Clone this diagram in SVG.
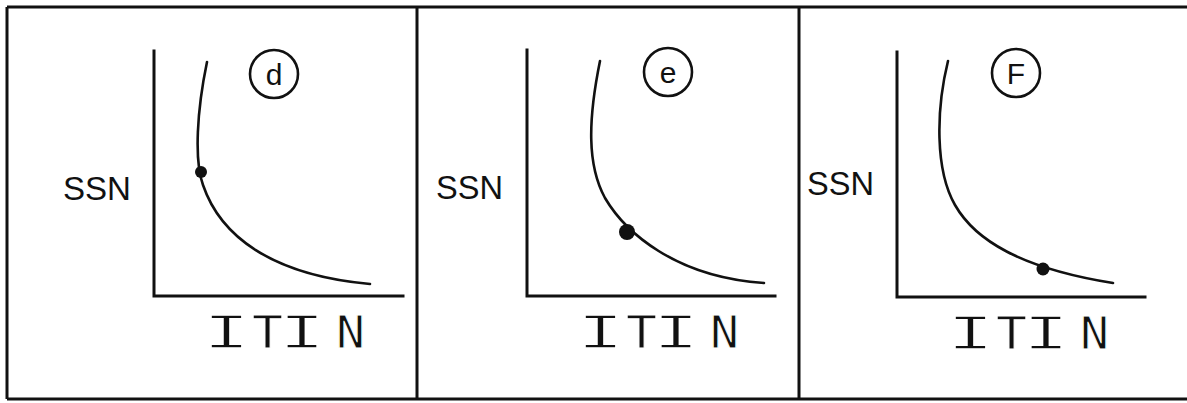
<svg xmlns="http://www.w3.org/2000/svg" width="1187" height="403" viewBox="0 0 1187 403">
<style>
.frame{stroke:#111;stroke-width:3;fill:none}
.axis{stroke:#111;stroke-width:3;fill:none;stroke-linecap:square}
.curve{stroke:#111;stroke-width:2.6;fill:none;stroke-linecap:round}
.badge{stroke:#111;stroke-width:2.6;fill:none}
.dot{fill:#111}
.ylab{font-family:"Liberation Sans",Arial,sans-serif;font-size:34px;fill:#111}
.xlab{font-family:"DejaVu Sans Mono",monospace;font-size:45px;fill:#111;stroke:#fff;stroke-width:0.8}
.xlab .wide{stroke-width:1.3}
.blab{font-family:"Liberation Sans",Arial,sans-serif;font-size:30px;fill:#111;text-anchor:middle}
</style>
<rect width="1187" height="403" fill="#fff"/>
<g id="frame">
<path class="frame" d="M7,7 H1187 M7,399 H1187 M7,7 V399 M417,7 V399 M799,7 V399"/>
</g>
<g id="panel-d">
<path class="axis" d="M154,51 V296 H403"/>
<path class="curve" d="M207,62 C197,110 194,160 203,185 C220,235 270,275 370,284"/>
<circle class="dot" cx="201" cy="172" r="6"/>
<circle class="badge" cx="274" cy="74" r="24"/>
<text class="blab" x="274" y="85">d</text>
<text class="ylab" x="63" y="200" textLength="68" lengthAdjust="spacingAndGlyphs">SSN</text>
<text class="xlab" y="348"><tspan class="wide" x="203" textLength="47" lengthAdjust="spacingAndGlyphs">I</tspan><tspan x="252" textLength="31" lengthAdjust="spacingAndGlyphs">T</tspan><tspan class="wide" x="279" textLength="46" lengthAdjust="spacingAndGlyphs">I</tspan><tspan x="336" textLength="29" lengthAdjust="spacingAndGlyphs">N</tspan></text>
</g>
<g id="panel-e">
<path class="axis" d="M527,50 V296 H775"/>
<path class="curve" d="M600,61 C588,120 587,165 605,198 C625,232 675,277 764,283"/>
<circle class="dot" cx="627" cy="232" r="8"/>
<circle class="badge" cx="668" cy="72" r="24"/>
<text class="blab" x="668" y="83">e</text>
<text class="ylab" x="436" y="199" textLength="67" lengthAdjust="spacingAndGlyphs">SSN</text>
<text class="xlab" y="348"><tspan class="wide" x="577" textLength="47" lengthAdjust="spacingAndGlyphs">I</tspan><tspan x="626" textLength="31" lengthAdjust="spacingAndGlyphs">T</tspan><tspan class="wide" x="653" textLength="46" lengthAdjust="spacingAndGlyphs">I</tspan><tspan x="710" textLength="29" lengthAdjust="spacingAndGlyphs">N</tspan></text>
</g>
<g id="panel-f">
<path class="axis" d="M897,52 V297 H1145"/>
<path class="curve" d="M948,61 C936,110 935,170 955,205 C975,240 1020,268 1113,283"/>
<circle class="dot" cx="1043" cy="269" r="6.5"/>
<circle class="badge" cx="1016" cy="73" r="24"/>
<text class="blab" x="1016" y="84">F</text>
<text class="ylab" x="807" y="195" textLength="67" lengthAdjust="spacingAndGlyphs">SSN</text>
<text class="xlab" y="349"><tspan class="wide" x="947" textLength="47" lengthAdjust="spacingAndGlyphs">I</tspan><tspan x="996" textLength="31" lengthAdjust="spacingAndGlyphs">T</tspan><tspan class="wide" x="1023" textLength="46" lengthAdjust="spacingAndGlyphs">I</tspan><tspan x="1080" textLength="29" lengthAdjust="spacingAndGlyphs">N</tspan></text>
</g>
</svg>
